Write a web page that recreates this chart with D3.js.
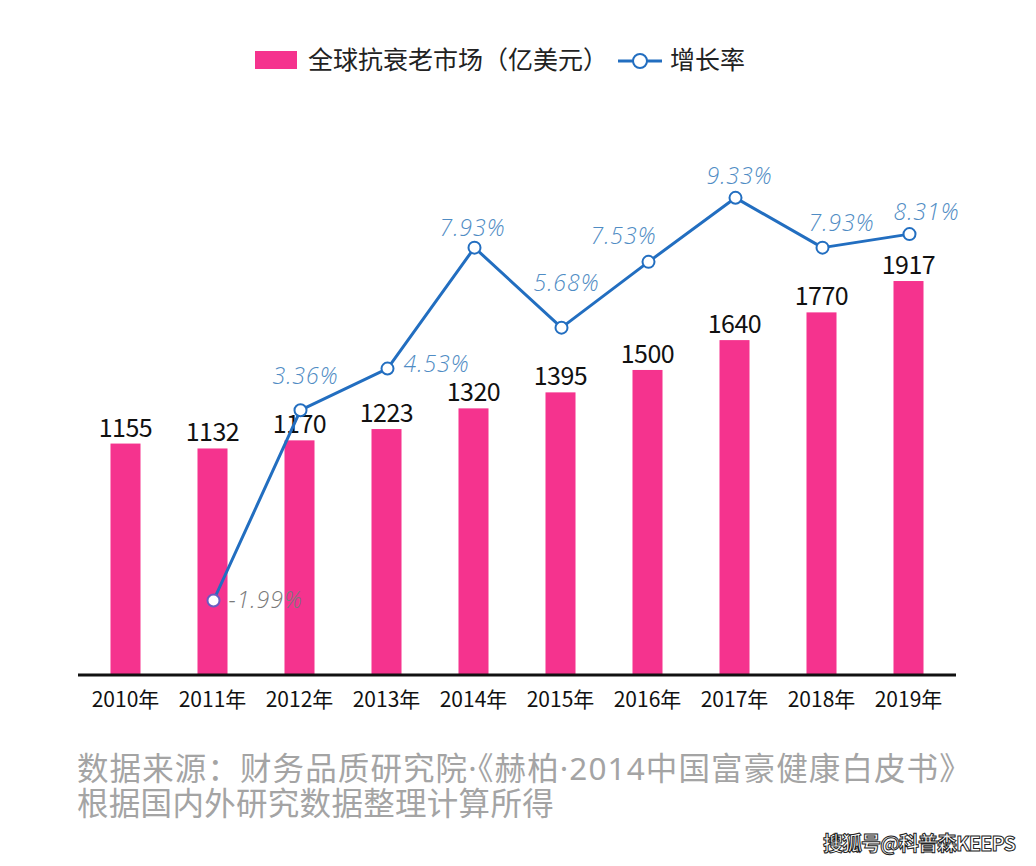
<!DOCTYPE html>
<html>
<head>
<meta charset="utf-8">
<script src="https://cdn.jsdelivr.net/npm/d3@7"></script>
<style>
  html, body { margin: 0; padding: 0; background: #fff; }
  svg { display: block; }
</style>
</head>
<body>
<svg id="chart" width="1036" height="866"></svg>
<script>
// ---- data ----
const years = ["2010年","2011年","2012年","2013年","2014年","2015年","2016年","2017年","2018年","2019年"];
const marketValues = [1155, 1132, 1170, 1223, 1320, 1395, 1500, 1640, 1770, 1917];
const growthRates = [null, -1.99, 3.36, 4.53, 7.93, 5.68, 7.53, 9.33, 7.93, 8.31];
const growthLabels = [null, "-1.99%", "3.36%", "4.53%", "7.93%", "5.68%", "7.53%", "9.33%", "7.93%", "8.31%"];
const legendNames = ["全球抗衰老市场（亿美元）", "增长率"];
const sourceLines = ["数据来源：财务品质研究院·《赫柏·2014中国富豪健康白皮书》", "根据国内外研究数据整理计算所得"];
const watermark = "搜狐号@科普森KEEPS";

// label placement (layout, not data)
const labelPlace = [null,
  {a:"start", dx:15, dy:7},
  {a:"middle", dx:5, dy:-26},
  {a:"start", dx:16, dy:3},
  {a:"middle", dx:-2, dy:-12},
  {a:"middle", dx:5, dy:-37},
  {a:"middle", dx:-25, dy:-18},
  {a:"middle", dx:4, dy:-14},
  {a:"middle", dx:19, dy:-17},
  {a:"middle", dx:17, dy:-14}
];
const sourceSpacing = [1.1, 0.3];

const svg = d3.select("#chart");
const PINK = "#f5338e";
const BLUE = "#226ec0";
const LBLUE = "#4f8cc4";
const cjk = "'Noto Sans CJK SC', 'Noto Sans', sans-serif";
const latinFirst = "'Noto Sans', 'Noto Sans CJK SC', sans-serif";

const x = d3.scaleBand().domain(years).range([82, 952]).paddingInner(0.655).paddingOuter(0.3275);
const yBar = d3.scaleLinear().domain([70, 2400]).range([675, 178]);
const yLine = d3.scaleLinear().domain([-4, 10]).range([672, 174]);

// bars
svg.append("g").selectAll("rect").data(marketValues).join("rect")
  .attr("x", (d,i) => x(years[i]))
  .attr("y", d => yBar(d))
  .attr("width", x.bandwidth())
  .attr("height", d => yBar(yBar.domain()[0]) - yBar(d))
  .attr("fill", PINK);

// bar labels
svg.append("g").selectAll("text").data(marketValues).join("text")
  .attr("x", (d,i) => x(years[i]) + x.bandwidth()/2)
  .attr("y", d => yBar(d) - 7)
  .attr("text-anchor", "middle")
  .attr("font-family", cjk)
  .attr("font-size", 25)
  .attr("letter-spacing", -0.5)
  .attr("fill", "#111")
  .text(d => d);

// x axis
const xAxis = d3.axisBottom(x).tickSize(0).tickPadding(14);
const gx = svg.append("g").attr("transform", "translate(0,675)").call(xAxis);
gx.select(".domain").attr("d", "M78,0H956").attr("stroke", "#111").attr("stroke-width", 3);
gx.selectAll("text").attr("font-family", cjk).attr("font-size", 21).attr("fill", "#111").attr("dy", "0.85em");

// line
const pts = growthRates.map((v,i) => v == null ? null : [x(years[i]) + x.bandwidth()/2 + 1, yLine(v), i]).filter(p => p);
svg.append("path")
  .attr("d", d3.line()(pts.map(p => [p[0], p[1]])))
  .attr("fill", "none")
  .attr("stroke", BLUE)
  .attr("stroke-width", 3)
  .attr("stroke-linejoin", "round");
svg.append("g").selectAll("circle").data(pts).join("circle")
  .attr("cx", p => p[0]).attr("cy", p => p[1]).attr("r", 6)
  .attr("fill", "#fff").attr("stroke", (p) => p[2] === 1 ? "#6a5cc0" : BLUE).attr("stroke-width", 2);

// growth labels
svg.append("g").selectAll("text").data(pts).join("text")
  .attr("x", p => p[0] + labelPlace[p[2]].dx)
  .attr("y", p => p[1] + labelPlace[p[2]].dy)
  .attr("text-anchor", p => labelPlace[p[2]].a)
  .attr("font-family", "'Open Sans', sans-serif")
  .attr("font-style", "italic")
  .attr("font-weight", 300)
  .attr("font-size", 23)
  .attr("letter-spacing", 1)
  .attr("fill", p => p[2] === 1 ? "#7a7a7a" : LBLUE)
  .text(p => growthLabels[p[2]]);

// legend
const lg = svg.append("g");
lg.append("rect").attr("x", 255).attr("y", 51).attr("width", 42).attr("height", 18).attr("fill", PINK);
lg.append("text").attr("x", 308).attr("y", 69).attr("font-family", cjk).attr("font-size", 25).attr("fill", "#222").text(legendNames[0]);
lg.append("line").attr("x1", 618).attr("x2", 662).attr("y1", 61).attr("y2", 61).attr("stroke", BLUE).attr("stroke-width", 3);
lg.append("circle").attr("cx", 640).attr("cy", 61).attr("r", 7).attr("fill", "#fff").attr("stroke", BLUE).attr("stroke-width", 2);
lg.append("text").attr("x", 670).attr("y", 69).attr("font-family", cjk).attr("font-size", 25).attr("fill", "#222").text(legendNames[1]);

// source
svg.append("g").selectAll("text").data(sourceLines).join("text")
  .attr("x", 77)
  .attr("y", (d,i) => 780 + i*35)
  .attr("font-family", latinFirst)
  .attr("font-size", 31.5)
  .attr("letter-spacing", (d,i) => sourceSpacing[i])
  .attr("fill", "#a4a4a4")
  .text(d => d);

// watermark
svg.append("text")
  .attr("x", 1015).attr("y", 851)
  .attr("text-anchor", "end")
  .attr("font-family", cjk)
  .attr("font-size", 20)
  .attr("font-weight", 700)
  .attr("fill", "#fff")
  .attr("stroke", "#222")
  .attr("stroke-width", 1)
  .attr("letter-spacing", -1)
  .text(watermark);
</script>
</body>
</html>
